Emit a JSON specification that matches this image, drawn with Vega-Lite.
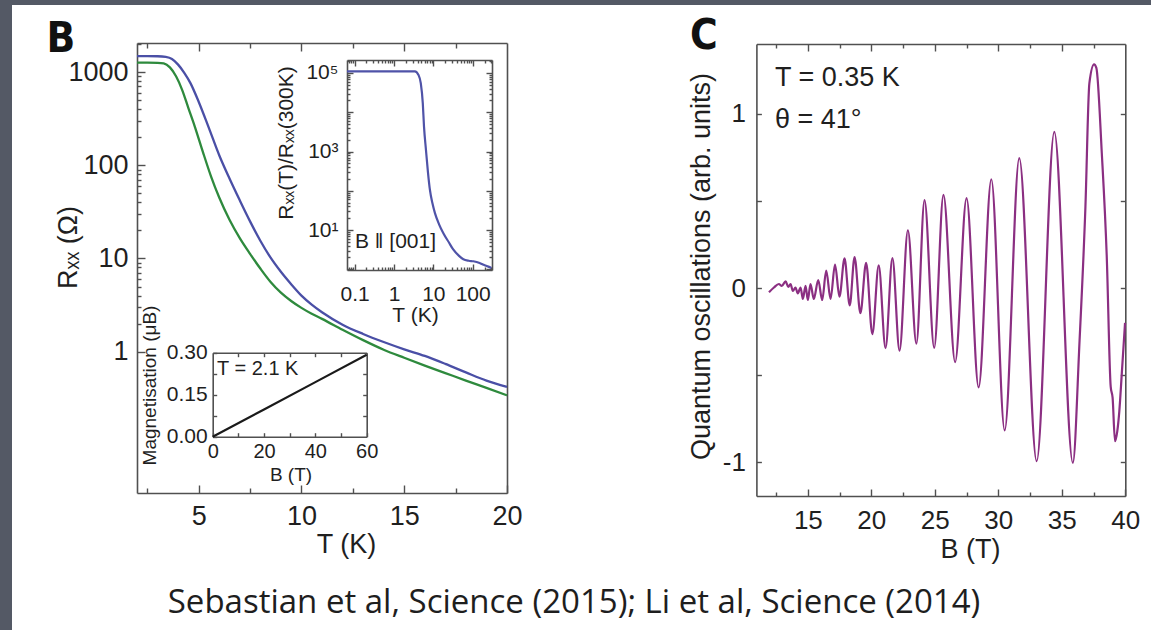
{
  "$schema": "https://vega.github.io/schema/vega-lite/v6.json",
  "width": 1139,
  "height": 625,
  "autosize": {"type": "none"},
  "padding": {"left": 12, "top": 5, "right": 0, "bottom": 0},
  "background": "#545965",
  "title": {"text": "Sebastian et al, Science (2015); Li et al, Science (2014)", "orient": "bottom", "anchor": "middle", "frame": "group", "offset": -17, "baseline": "alphabetic", "font": "Open Sans", "fontSize": 33, "fontWeight": "normal", "color": "#1e1e1e", "dx": -7.5},
  "datasets": {
    "rxx": [
      {"T": 2.0, "R": 1480, "s": "b"}, {"T": 2.5, "R": 1480, "s": "b"}, {"T": 3.0, "R": 1475, "s": "b"}, {"T": 3.4, "R": 1450, "s": "b"}, {"T": 3.7, "R": 1380, "s": "b"}, {"T": 4.0, "R": 1200, "s": "b"}, {"T": 4.3, "R": 980, "s": "b"}, {"T": 4.6, "R": 760, "s": "b"}, {"T": 5.0, "R": 480, "s": "b"}, {"T": 5.5, "R": 250, "s": "b"}, {"T": 6.0, "R": 128, "s": "b"}, {"T": 6.5, "R": 72, "s": "b"}, {"T": 7.0, "R": 42, "s": "b"}, {"T": 7.5, "R": 25, "s": "b"}, {"T": 8.0, "R": 15.5, "s": "b"}, {"T": 8.5, "R": 10.2, "s": "b"}, {"T": 9.0, "R": 7.2, "s": "b"}, {"T": 9.5, "R": 5.3, "s": "b"}, {"T": 10.0, "R": 4.0, "s": "b"}, {"T": 10.5, "R": 3.2, "s": "b"}, {"T": 11.0, "R": 2.65, "s": "b"}, {"T": 12.0, "R": 1.95, "s": "b"}, {"T": 13.0, "R": 1.55, "s": "b"}, {"T": 14.0, "R": 1.27, "s": "b"}, {"T": 15.0, "R": 1.06, "s": "b"}, {"T": 16.0, "R": 0.9, "s": "b"}, {"T": 17.0, "R": 0.74, "s": "b"}, {"T": 18.0, "R": 0.6, "s": "b"}, {"T": 19.0, "R": 0.49, "s": "b"}, {"T": 20.0, "R": 0.42, "s": "b"},
      {"T": 2.0, "R": 1260, "s": "g"}, {"T": 2.5, "R": 1260, "s": "g"}, {"T": 3.0, "R": 1255, "s": "g"}, {"T": 3.3, "R": 1235, "s": "g"}, {"T": 3.6, "R": 1120, "s": "g"}, {"T": 3.9, "R": 900, "s": "g"}, {"T": 4.2, "R": 640, "s": "g"}, {"T": 4.5, "R": 410, "s": "g"}, {"T": 4.8, "R": 265, "s": "g"}, {"T": 5.2, "R": 140, "s": "g"}, {"T": 5.6, "R": 76, "s": "g"}, {"T": 6.0, "R": 45, "s": "g"}, {"T": 6.5, "R": 26, "s": "g"}, {"T": 7.0, "R": 16.5, "s": "g"}, {"T": 7.5, "R": 11.2, "s": "g"}, {"T": 8.0, "R": 7.8, "s": "g"}, {"T": 8.5, "R": 5.6, "s": "g"}, {"T": 9.0, "R": 4.3, "s": "g"}, {"T": 9.5, "R": 3.5, "s": "g"}, {"T": 10.0, "R": 2.95, "s": "g"}, {"T": 10.5, "R": 2.55, "s": "g"}, {"T": 11.0, "R": 2.25, "s": "g"}, {"T": 12.0, "R": 1.72, "s": "g"}, {"T": 13.0, "R": 1.33, "s": "g"}, {"T": 14.0, "R": 1.05, "s": "g"}, {"T": 15.0, "R": 0.86, "s": "g"}, {"T": 16.0, "R": 0.71, "s": "g"}, {"T": 17.0, "R": 0.59, "s": "g"}, {"T": 18.0, "R": 0.49, "s": "g"}, {"T": 19.0, "R": 0.41, "s": "g"}, {"T": 20.0, "R": 0.34, "s": "g"}
    ],
    "inset": [
      {"T": 0.064, "r": 110000}, {"T": 0.2, "r": 110000}, {"T": 1, "r": 110000}, {"T": 2, "r": 110000}, {"T": 3.4, "r": 110000}, {"T": 4.2, "r": 89000}, {"T": 4.8, "r": 55000}, {"T": 5.4, "r": 17000}, {"T": 5.8, "r": 4300}, {"T": 6.5, "r": 1100}, {"T": 7.3, "r": 300}, {"T": 8.2, "r": 105}, {"T": 9.5, "r": 48}, {"T": 11, "r": 27}, {"T": 14, "r": 14}, {"T": 18, "r": 8.3}, {"T": 25, "r": 4.8}, {"T": 32, "r": 3.2}, {"T": 45, "r": 2.2}, {"T": 58, "r": 1.8}, {"T": 80, "r": 1.65}, {"T": 104, "r": 1.6}, {"T": 150, "r": 1.45}, {"T": 190, "r": 1.3}, {"T": 250, "r": 1.17}, {"T": 300, "r": 1.08}
    ],
    "mag": [
      {"B": 0, "M": 0}, {"B": 20, "M": 0.097}, {"B": 40, "M": 0.195}, {"B": 60, "M": 0.293}
    ],
    "qo": [
      {"B": 11.94, "v": -0.025}, {"B": 12.33, "v": 0.003}, {"B": 12.72, "v": 0.023}, {"B": 12.95, "v": 0.012}, {"B": 13.25, "v": 0.038}, {"B": 13.46, "v": 0.007}, {"B": 13.64, "v": 0.023}, {"B": 13.82, "v": -0.016}, {"B": 14.03, "v": 0.003}, {"B": 14.21, "v": -0.031}, {"B": 14.43, "v": 0.003}, {"B": 14.61, "v": -0.063}, {"B": 14.82, "v": 0.013}, {"B": 15.0, "v": -0.069}, {"B": 15.21, "v": 0.023}, {"B": 15.47, "v": -0.063}, {"B": 15.82, "v": 0.046}, {"B": 16.13, "v": -0.069}, {"B": 16.45, "v": 0.1}, {"B": 16.79, "v": -0.063}, {"B": 17.14, "v": 0.135}, {"B": 17.49, "v": -0.05}, {"B": 17.89, "v": 0.17}, {"B": 18.3, "v": -0.1}, {"B": 18.68, "v": 0.178}, {"B": 19.14, "v": -0.145}, {"B": 19.59, "v": 0.145}, {"B": 20.08, "v": -0.265}, {"B": 20.58, "v": 0.13}, {"B": 21.12, "v": -0.345}, {"B": 21.66, "v": 0.172}, {"B": 22.22, "v": -0.36}, {"B": 22.88, "v": 0.332}, {"B": 23.55, "v": -0.32}, {"B": 24.19, "v": 0.505}, {"B": 24.95, "v": -0.344}, {"B": 25.68, "v": 0.535}, {"B": 26.6, "v": -0.426}, {"B": 27.5, "v": 0.516}, {"B": 28.45, "v": -0.571}, {"B": 29.45, "v": 0.625}, {"B": 30.5, "v": -0.818}, {"B": 31.65, "v": 0.746}, {"B": 33.02, "v": -0.995}, {"B": 34.41, "v": 0.897}, {"B": 35.87, "v": -1.005}, {"B": 36.4, "v": -0.3}, {"B": 36.86, "v": 0.467}, {"B": 37.17, "v": 1.176}, {"B": 37.54, "v": 1.285}, {"B": 37.72, "v": 1.265}, {"B": 38.15, "v": 0.774}, {"B": 38.54, "v": 0.18}, {"B": 38.85, "v": -0.567}, {"B": 39.0, "v": -0.63}, {"B": 39.19, "v": -0.88}, {"B": 39.37, "v": -0.822}, {"B": 39.53, "v": -0.707}, {"B": 39.72, "v": -0.496}, {"B": 39.98, "v": -0.2}
    ]
  },
  "layer": [
    {
      "data": {"name": "rxx"},
      "layer": [
        {
          "mark": {"type": "line", "strokeWidth": 2.3, "interpolate": "monotone"},
          "encoding": {
            "x": {"field": "T", "type": "quantitative", "scale": {"domain": [2, 20], "range": [125, 495], "nice": false, "zero": false},
              "axis": {"orient": "bottom", "offset": -137, "values": [2.5, 5, 7.5, 10, 12.5, 15, 17.5, 20],
                "labelExpr": "datum.value == 5 ? '5' : datum.value == 10 ? '10' : datum.value == 15 ? '15' : datum.value == 20 ? '20' : ''",
                "tickSize": {"condition": {"test": "datum.value % 5 === 0", "value": -8}, "value": -5},
                "labelPadding": 18, "labelFontSize": 27,
                "title": "T (K)", "titleFontSize": 27, "titleX": 334, "titleY": 59, "titleAlign": "center", "titleBaseline": "alphabetic"}},
            "y": {"field": "R", "type": "quantitative", "scale": {"type": "log", "domain": [0.0305, 2047], "range": [488, 38], "nice": false},
              "axis": {"orient": "left", "offset": -125, "values": [1, 2, 3, 4, 5, 6, 7, 8, 9, 10, 20, 30, 40, 50, 60, 70, 80, 90, 100, 200, 300, 400, 500, 600, 700, 800, 900, 1000, 2000],
                "labelExpr": "datum.value == 1 ? '1' : datum.value == 10 ? '10' : datum.value == 100 ? '100' : datum.value == 1000 ? '1000' : ''",
                "tickSize": {"condition": {"test": "datum.value == 1 || datum.value == 10 || datum.value == 100 || datum.value == 1000", "value": -8}, "value": -4},
                "labelPadding": 17, "labelFontSize": 27,
                "title": "Rₓₓ (Ω)", "titleFontSize": 27, "titleAngle": -90, "titleX": -69, "titleY": 242, "titleAlign": "center", "titleBaseline": "middle"}},
            "color": {"field": "s", "type": "nominal", "scale": {"domain": ["g", "b"], "range": ["#2e8a3d", "#4a4fa6"]}, "legend": null}
          }
        },
        {
          "mark": {"type": "line", "opacity": 0},
          "encoding": {
            "x": {"field": "T", "type": "quantitative", "scale": {"domain": [2, 20], "range": [125, 495], "nice": false, "zero": false},
              "axis": {"orient": "top", "offset": -38, "values": [2.5, 5, 7.5, 10, 12.5, 15, 17.5], "labels": false,
                "tickSize": {"condition": {"test": "datum.value % 5 === 0", "value": -8}, "value": -5},
                "title": "B", "titleX": 34, "titleY": 8, "titleAlign": "left", "titleBaseline": "alphabetic", "titleAngle": 0,
                "titleFont": "'Liberation Sans Narrow', 'DejaVu Sans Condensed', 'Liberation Sans'", "titleFontSize": 42, "titleFontWeight": "bold", "titleColor": "#111111"}},
            "y": {"field": "R", "type": "quantitative", "scale": {"type": "log", "domain": [0.0305, 2047], "range": [488, 38], "nice": false},
              "axis": {"orient": "right", "offset": -644, "ticks": false, "labels": false, "title": null}}
          }
        }
      ],
      "resolve": {"axis": {"x": "independent", "y": "independent"}}
    },
    {
      "data": {"name": "inset"},
      "layer": [
        {
          "mark": {"type": "line", "color": "#4f53a8", "strokeWidth": 2.2, "interpolate": "monotone"},
          "encoding": {
            "x": {"field": "T", "type": "quantitative", "scale": {"type": "log", "domain": [0.064, 310], "range": [335, 480], "nice": false},
              "axis": {"orient": "bottom", "offset": -360, "values": [0.07, 0.08, 0.09, 0.1, 0.2, 0.3, 0.4, 0.5, 0.6, 0.7, 0.8, 0.9, 1, 2, 3, 4, 5, 6, 7, 8, 9, 10, 20, 30, 40, 50, 60, 70, 80, 90, 100, 200, 300],
                "labelExpr": "datum.value == 0.1 ? '0.1' : datum.value == 1 ? '1' : datum.value == 10 ? '10' : datum.value == 100 ? '100' : ''",
                "tickSize": {"condition": {"test": "datum.value == 0.1 || datum.value == 1 || datum.value == 10 || datum.value == 100", "value": -6}, "value": -3},
                "labelPadding": 19, "labelFontSize": 21,
                "title": "T (K)", "titleFontSize": 21, "titleX": 403, "titleY": 51, "titleAlign": "center", "titleBaseline": "alphabetic"}},
            "y": {"field": "r", "type": "quantitative", "scale": {"type": "log", "domain": [0.96, 214000], "range": [265, 55], "nice": false},
              "axis": {"orient": "left", "offset": -335, "values": [1, 2, 3, 4, 5, 6, 7, 8, 9, 10, 20, 30, 40, 50, 60, 70, 80, 90, 100, 200, 300, 400, 500, 600, 700, 800, 900, 1000, 2000, 3000, 4000, 5000, 6000, 7000, 8000, 9000, 10000, 20000, 30000, 40000, 50000, 60000, 70000, 80000, 90000, 100000, 200000],
                "labelExpr": "datum.value == 10 ? '10¹' : datum.value == 1000 ? '10³' : datum.value == 100000 ? '10⁵' : ''",
                "tickSize": {"condition": {"test": "datum.value == 1 || datum.value == 10 || datum.value == 100 || datum.value == 1000 || datum.value == 10000 || datum.value == 100000", "value": -6}, "value": -3},
                "labelPadding": 15, "labelFontSize": 21,
                "title": "Rₓₓ(T)/Rₓₓ(300K)", "titleFontSize": 21, "titleAngle": -90, "titleX": -61, "titleY": 137.5, "titleAlign": "center", "titleBaseline": "middle"}}
          }
        },
        {
          "mark": {"type": "line", "opacity": 0},
          "encoding": {
            "x": {"field": "T", "type": "quantitative", "scale": {"type": "log", "domain": [0.064, 310], "range": [335, 480], "nice": false},
              "axis": {"orient": "top", "offset": -55, "values": [0.07, 0.08, 0.09, 0.1, 0.2, 0.3, 0.4, 0.5, 0.6, 0.7, 0.8, 0.9, 1, 2, 3, 4, 5, 6, 7, 8, 9, 10, 20, 30, 40, 50, 60, 70, 80, 90, 100, 200, 300], "labels": false,
                "tickSize": {"condition": {"test": "datum.value == 0.1 || datum.value == 1 || datum.value == 10 || datum.value == 100", "value": -6}, "value": -3}, "title": null}},
            "y": {"field": "r", "type": "quantitative", "scale": {"type": "log", "domain": [0.96, 214000], "range": [265, 55], "nice": false},
              "axis": {"orient": "right", "offset": -659, "values": [1, 2, 3, 4, 5, 6, 7, 8, 9, 10, 20, 30, 40, 50, 60, 70, 80, 90, 100, 200, 300, 400, 500, 600, 700, 800, 900, 1000, 2000, 3000, 4000, 5000, 6000, 7000, 8000, 9000, 10000, 20000, 30000, 40000, 50000, 60000, 70000, 80000, 90000, 100000, 200000], "labels": false,
                "tickSize": {"condition": {"test": "datum.value == 1 || datum.value == 10 || datum.value == 100 || datum.value == 1000 || datum.value == 10000 || datum.value == 100000", "value": -6}, "value": -3}, "title": null}}
          }
        },
        {
          "data": {"values": [{}]},
          "mark": {"type": "text", "text": "B ‖ [001]", "align": "left", "baseline": "alphabetic", "fontSize": 21, "font": "Liberation Sans", "color": "#1f1f1f"},
          "encoding": {
            "x": {"datum": 0.102, "type": "quantitative", "scale": {"type": "log", "domain": [0.064, 310], "range": [335, 480], "nice": false}, "axis": null},
            "y": {"datum": 3.5, "type": "quantitative", "scale": {"type": "log", "domain": [0.96, 214000], "range": [265, 55], "nice": false}, "axis": null}
          }
        }
      ],
      "resolve": {"axis": {"x": "independent", "y": "independent"}}
    },
    {
      "data": {"name": "mag"},
      "layer": [
        {
          "mark": {"type": "line", "color": "#1a1a1a", "strokeWidth": 2.2},
          "encoding": {
            "x": {"field": "B", "type": "quantitative", "scale": {"domain": [0, 60], "range": [200.7, 354.7], "nice": false, "zero": false},
              "axis": {"orient": "bottom", "offset": -193.3, "values": [0, 10, 20, 30, 40, 50, 60],
                "labelExpr": "datum.value == 0 ? '0' : datum.value == 20 ? '20' : datum.value == 40 ? '40' : datum.value == 60 ? '60' : ''",
                "tickSize": -4, "labelPadding": 9, "labelFontSize": 20,
                "title": "B (T)", "titleFontSize": 19, "titleX": 278.5, "titleY": 44, "titleAlign": "center", "titleBaseline": "alphabetic"}},
            "y": {"field": "M", "type": "quantitative", "scale": {"domain": [0, 0.3], "range": [431.7, 347.7], "nice": false, "zero": false},
              "axis": {"orient": "left", "offset": -200.7, "values": [0, 0.075, 0.15, 0.225, 0.3],
                "labelExpr": "datum.value == 0 ? '0.00' : datum.value == 0.15 ? '0.15' : datum.value == 0.3 ? '0.30' : ''",
                "tickSize": -4, "labelPadding": 9.5, "labelFontSize": 21,
                "title": "Magnetisation (μB)", "titleFontSize": 19, "titleAngle": -90, "titleX": -63.7, "titleY": 380, "titleAlign": "center", "titleBaseline": "middle"}}
          }
        },
        {
          "mark": {"type": "line", "opacity": 0},
          "encoding": {
            "x": {"field": "B", "type": "quantitative", "scale": {"domain": [0, 60], "range": [200.7, 354.7], "nice": false, "zero": false},
              "axis": {"orient": "top", "offset": -347.7, "values": [10, 20, 30, 40, 50], "labels": false, "tickSize": -4, "title": null}},
            "y": {"field": "M", "type": "quantitative", "scale": {"domain": [0, 0.3], "range": [431.7, 347.7], "nice": false, "zero": false},
              "axis": {"orient": "right", "offset": -784.3, "values": [0.075, 0.15, 0.225], "labels": false, "tickSize": -4, "title": null}}
          }
        },
        {
          "data": {"values": [{}]},
          "mark": {"type": "text", "text": "T = 2.1 K", "align": "left", "baseline": "alphabetic", "fontSize": 20, "font": "Liberation Sans", "color": "#1f1f1f"},
          "encoding": {
            "x": {"datum": 1.7, "type": "quantitative", "scale": {"domain": [0, 60], "range": [200.7, 354.7], "nice": false, "zero": false}, "axis": null},
            "y": {"datum": 0.22, "type": "quantitative", "scale": {"domain": [0, 0.3], "range": [431.7, 347.7], "nice": false, "zero": false}, "axis": null}
          }
        }
      ],
      "resolve": {"axis": {"x": "independent", "y": "independent"}}
    },
    {
      "data": {"name": "qo"},
      "layer": [
        {
          "mark": {"type": "line", "color": "#8b2f82", "strokeWidth": 2.2, "interpolate": "monotone"},
          "encoding": {
            "x": {"field": "B", "type": "quantitative", "scale": {"domain": [10.95, 40], "range": [744.4, 1113.3], "nice": false, "zero": false},
              "axis": {"orient": "bottom", "offset": -134, "values": [12.5, 15, 17.5, 20, 22.5, 25, 27.5, 30, 32.5, 35, 37.5, 40],
                "labelExpr": "datum.value % 5 === 0 ? '' + datum.value : ''",
                "tickSize": {"condition": {"test": "datum.value % 5 === 0", "value": -7}, "value": -4},
                "labelPadding": 18, "labelFontSize": 26,
                "title": "B (T)", "titleFontSize": 27, "titleX": 958, "titleY": 61, "titleAlign": "center", "titleBaseline": "alphabetic"}},
            "y": {"field": "v", "type": "quantitative", "scale": {"domain": [-1.195, 1.402], "range": [491, 39], "nice": false, "zero": false},
              "axis": {"orient": "left", "offset": -744.4, "values": [-1, -0.5, 0, 0.5, 1],
                "labelExpr": "datum.value == 1 ? '1' : datum.value == 0 ? '0' : datum.value == -1 ? '-1' : ''",
                "tickSize": -5, "labelPadding": 16, "labelFontSize": 26,
                "title": "Quantum oscillations (arb. units)", "titleFontSize": 27, "titleAngle": -90, "titleX": -54.9, "titleY": 261, "titleAlign": "center", "titleBaseline": "middle"}}
          }
        },
        {
          "mark": {"type": "line", "opacity": 0},
          "encoding": {
            "x": {"field": "B", "type": "quantitative", "scale": {"domain": [10.95, 40], "range": [744.4, 1113.3], "nice": false, "zero": false},
              "axis": {"orient": "top", "offset": -39, "values": [12.5, 15, 17.5, 20, 22.5, 25, 27.5, 30, 32.5, 35, 37.5], "labels": false,
                "tickSize": {"condition": {"test": "datum.value % 5 === 0", "value": -7}, "value": -4},
                "title": "C", "titleX": 677.6, "titleY": 4, "titleAlign": "left", "titleBaseline": "alphabetic", "titleAngle": 0,
                "titleFont": "'Liberation Sans Narrow', 'DejaVu Sans Condensed', 'Liberation Sans'", "titleFontSize": 42, "titleFontWeight": "bold", "titleColor": "#111111"}},
            "y": {"field": "v", "type": "quantitative", "scale": {"domain": [-1.195, 1.402], "range": [491, 39], "nice": false, "zero": false},
              "axis": {"orient": "right", "offset": -25.7, "values": [-1, -0.5, 0, 0.5, 1], "labels": false, "tickSize": -5, "title": null}}
          }
        },
        {
          "data": {"values": [{}]},
          "mark": {"type": "text", "text": "T = 0.35 K", "align": "left", "baseline": "alphabetic", "fontSize": 27, "font": "Liberation Sans", "color": "#1f1f1f"},
          "encoding": {
            "x": {"datum": 12.41, "type": "quantitative", "scale": {"domain": [10.95, 40], "range": [744.4, 1113.3], "nice": false, "zero": false}, "axis": null},
            "y": {"datum": 1.161, "type": "quantitative", "scale": {"domain": [-1.195, 1.402], "range": [491, 39], "nice": false, "zero": false}, "axis": null}
          }
        },
        {
          "data": {"values": [{}]},
          "mark": {"type": "text", "text": "θ = 41°", "align": "left", "baseline": "alphabetic", "fontSize": 27, "font": "Liberation Sans", "color": "#1f1f1f"},
          "encoding": {
            "x": {"datum": 12.41, "type": "quantitative", "scale": {"domain": [10.95, 40], "range": [744.4, 1113.3], "nice": false, "zero": false}, "axis": null},
            "y": {"datum": 0.921, "type": "quantitative", "scale": {"domain": [-1.195, 1.402], "range": [491, 39], "nice": false, "zero": false}, "axis": null}
          }
        }
      ],
      "resolve": {"axis": {"x": "independent", "y": "independent"}}
    }
  ],
  "resolve": {"scale": {"x": "independent", "y": "independent"}, "axis": {"x": "independent", "y": "independent"}},
  "config": {
    "view": {"fill": "#ffffff", "stroke": null},
    "axis": {"grid": false, "domainColor": "#505050", "tickColor": "#505050", "domainWidth": 1.6, "tickWidth": 1.4, "labelFont": "Liberation Sans", "titleFont": "Liberation Sans", "labelColor": "#1f1f1f", "titleColor": "#1f1f1f", "titleFontWeight": "normal", "labelFlush": false, "labelOverlap": false, "labelBound": false}
  }
}
